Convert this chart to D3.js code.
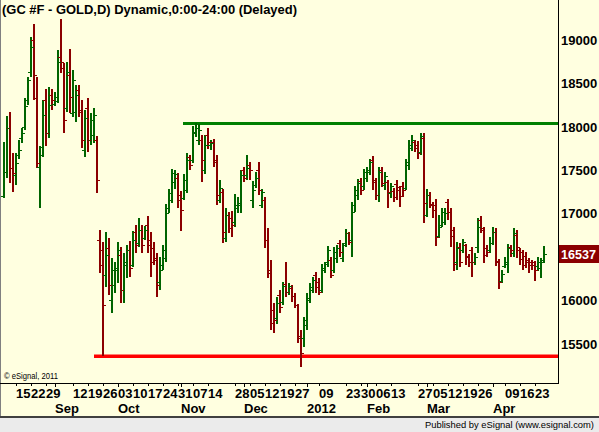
<!DOCTYPE html>
<html><head><meta charset="utf-8">
<script src="https://cdnjs.cloudflare.com/ajax/libs/d3/7.8.5/d3.min.js"></script>
<style>html,body{margin:0;padding:0;background:#FFFFE0;overflow:hidden}</style>
</head><body><svg id="c" width="599" height="432"></svg>
<script>
// ---- data ----
const startDate = "2011-08-09";
const holidays = ["2011-09-05","2011-11-24","2011-12-26","2012-01-02","2012-01-16","2012-02-20","2012-04-06"];
const openP = [17205,17481,17987,17527,17446,17676,17872,17999,18310,18632,19000,18333,17538,17769,18310,17930,18367,18264,18298,18805,18678,18218,18598,18160,18172,18425,18195,17734,18218,17849,17907,17849,16698,16583,16295,16606,16007,16180,16352,16525,16122,16410,16583,16410,16790,16663,16813,16721,16871,16698,16606,16467,16215,16410,16491,17066,17159,17366,17412,17216,17182,17274,17654,17619,17930,17849,17849,17504,17907,17792,17826,17619,17159,17251,16721,16986,16952,16905,17066,17101,17504,17446,17561,17159,17331,17504,17101,17159,16698,16318,15893,15800,16065,15985,16192,16099,16146,16054,15950,15593,15570,15719,16030,16122,16295,16215,16122,16352,16445,16467,16352,16491,16663,16491,16663,16778,16698,17101,17216,17377,17320,17412,17481,17619,17366,17216,17504,17331,17366,17239,17262,17343,17308,17320,17297,17561,17757,17826,17792,17711,17872,16986,17216,17113,17101,16744,16871,16905,17136,17020,16813,16445,16617,16583,16640,16514,16583,16445,16617,16928,16813,16606,16583,16663,16790,16445,16226,16399,16422,16617,16548,16755,16583,16560,16514,16467,16445,16445,16399,16375,16467];
const highP = [17826,18125,18172,17700,17700,17849,17987,18333,18575,19035,19185,18575,17780,18310,18436,18459,18436,18402,18885,19242,18736,18747,18897,18655,18482,18482,18310,18195,18333,18160,18218,17895,16813,16675,16790,16721,16491,16445,16675,16617,16548,16640,16687,16801,16871,16952,16871,16859,16975,16790,16675,16548,16502,16640,17113,17285,17515,17504,17469,17262,17458,17700,17676,18010,18045,18033,17907,17907,17987,17849,17861,17676,17389,17285,17066,17020,17032,17228,17193,17504,17538,17676,17596,17377,17481,17596,17285,17193,16836,16467,15973,16042,16122,16215,16445,16203,16180,16088,15961,15662,15811,16088,16203,16272,16329,16260,16422,16445,16629,16502,16617,16640,16698,16663,16825,16790,17136,17320,17400,17412,17515,17538,17631,17665,17412,17538,17538,17481,17389,17354,17297,17389,17320,17366,17631,17849,17907,17849,17838,17930,17930,17285,17251,17136,17170,16986,17066,17066,17170,17066,16848,16675,16663,16710,16652,16537,16617,16548,16952,16975,16848,16640,16733,16848,16836,16479,16352,16502,16652,16640,16836,16813,16606,16583,16560,16491,16467,16456,16502,16491,16629];
const lowP = [17182,17412,17354,17251,17331,17631,17815,17964,18252,18575,18310,17527,17066,17654,17780,17872,18195,18241,18275,18620,17930,18172,18160,18114,18056,18114,17757,17654,17711,17792,17815,17239,16318,15360,16157,16065,15857,16088,16203,15973,15973,16260,16272,16387,16548,16617,16548,16698,16548,16272,16410,16042,16122,16352,16445,17009,17124,17285,17066,16801,17159,17239,17504,17584,17884,17792,17366,17458,17746,17734,17538,17101,17124,16663,16675,16778,16733,16848,17009,17009,17366,17389,17389,17066,17297,17216,17066,16606,16260,15662,15627,15731,15857,15950,16042,16065,15985,15916,15512,15236,15466,15662,15973,16088,16088,16065,16088,16318,16387,16260,16318,16433,16502,16445,16617,16640,16502,17020,17159,17216,17274,17366,17446,17274,17159,17136,17308,17274,17066,17182,17136,17159,17078,17193,17274,17504,17723,17711,17631,17676,16894,16963,17066,16952,16629,16721,16848,16871,16928,16617,16341,16352,16387,16548,16410,16387,16272,16410,16548,16778,16433,16502,16548,16640,16399,16134,16203,16375,16318,16502,16502,16491,16410,16352,16375,16318,16352,16226,16341,16260,16433];
const closeP = [17481,17987,17527,17469,17584,17731,17930,18241,18540,18920,18598,17584,17676,18137,17930,18252,18310,18344,18747,18747,18079,18632,18344,18540,18367,18172,17849,18102,17849,18079,18137,17389,16410,15950,16525,16180,16352,16375,16583,16122,16445,16583,16375,16698,16640,16813,16640,16813,16640,16445,16491,16180,16352,16583,17009,17239,17469,17458,17159,17043,17389,17619,17561,17941,17987,17964,17619,17792,17826,17815,17596,17216,17297,16790,16986,16836,16871,17101,17124,17446,17412,17527,17504,17274,17412,17274,17251,16698,16352,15742,15777,15973,15927,16168,16099,16168,16054,15950,15570,15397,15777,16007,16157,16237,16157,16099,16375,16422,16583,16295,16560,16606,16560,16640,16778,16675,17020,17274,17354,17274,17481,17504,17596,17389,17216,17481,17354,17435,17251,17320,17193,17274,17205,17274,17596,17792,17849,17757,17700,17895,17124,17216,17101,17043,16733,16848,17020,17009,17020,16744,16422,16606,16445,16675,16502,16445,16445,16502,16848,16836,16525,16560,16663,16790,16456,16215,16306,16445,16606,16583,16778,16617,16479,16410,16445,16410,16410,16352,16445,16445,16537];
const priceTicks = [15500,16000,16500,17000,17500,18000,18500,19000];
const dayTickDates = ["2011-08-15","2011-08-22","2011-08-29","2011-09-12","2011-09-19","2011-09-26","2011-10-03","2011-10-10","2011-10-17","2011-10-24","2011-10-31","2011-11-07","2011-11-14","2011-11-28","2011-12-05","2011-12-12","2011-12-19","2011-12-27","2012-01-09","2012-01-23","2012-01-30","2012-02-06","2012-02-13","2012-02-27","2012-03-05","2012-03-12","2012-03-19","2012-03-26","2012-04-09","2012-04-16","2012-04-23"];
const monthTickDates = ["2011-09-01","2011-10-03","2011-11-01","2011-12-01","2012-01-03","2012-02-01","2012-03-01","2012-04-02"];
const monthTickLabels = ["Sep","Oct","Nov","Dec","2012","Feb","Mar","Apr"];
const resistanceLevel = 18050, resistanceFrom = "2011-11-02";
const supportLevel = 15360, supportFrom = "2011-09-21";
const titleText = "(GC #F - GOLD,D) Dynamic,0:00-24:00 (Delayed)";

// ---- trading-day categories ----
const dates = [];
{
  let d = new Date(startDate + "T00:00:00Z");
  const hol = new Set(holidays);
  while (dates.length < closeP.length) {
    const s = d.toISOString().slice(0,10);
    const wd = d.getUTCDay();
    if (wd !== 0 && wd !== 6 && !hol.has(s)) dates.push(s);
    d = new Date(d.getTime() + 86400000);
  }
}
const bars = dates.map((dt,i)=>({date:dt,o:openP[i],h:highP[i],l:lowP[i],c:closeP[i]}));

const W = 599, H = 432, plotR = 558, plotB = 383;
const svg = d3.select("#c");
const FONT = "'Liberation Sans', Arial, sans-serif";

svg.append("rect").attr("width",W).attr("height",H).attr("fill","#FFFFE0");

const x = d3.scalePoint().domain(dates).range([4,544]);
const y = d3.scaleLinear().domain([15500,19000]).range([344,40]);

// frame
svg.append("line").attr("x1",0.5).attr("x2",0.5).attr("y1",0).attr("y2",417).attr("stroke","#808080");
svg.append("line").attr("x1",plotR+0.5).attr("x2",plotR+0.5).attr("y1",0).attr("y2",plotB+1).attr("stroke","#000");
svg.append("line").attr("x1",0).attr("x2",plotR+1).attr("y1",plotB+0.5).attr("y2",plotB+0.5).attr("stroke","#000");

// title
svg.append("text").attr("x",2).attr("y",14).attr("font-family",FONT).attr("font-weight","bold")
  .attr("font-size",13).attr("textLength",295).attr("lengthAdjust","spacingAndGlyphs").attr("fill","#000").text(titleText);

// support / resistance
svg.append("rect").attr("x",Math.round(x(resistanceFrom))-1).attr("y",Math.round(y(resistanceLevel))-1)
  .attr("width",plotR-Math.round(x(resistanceFrom))+1).attr("height",3).attr("fill","#008000");
svg.append("rect").attr("x",Math.round(x(supportFrom))).attr("y",Math.round(y(supportLevel))-1.5)
  .attr("width",plotR-Math.round(x(supportFrom))).attr("height",3.5).attr("fill","#FF0000");

// OHLC bars
const gB = svg.append("g").attr("shape-rendering","crispEdges");
const col = b => b.c >= b.o ? "#006400" : "#8B0000";
gB.selectAll("rect.v").data(bars).join("rect").attr("class","v")
  .attr("x",b=>Math.round(x(b.date))-1).attr("width",2)
  .attr("y",b=>Math.round(y(b.h))).attr("height",b=>Math.max(1,Math.round(y(b.l))-Math.round(y(b.h))))
  .attr("fill",col);
gB.selectAll("rect.o").data(bars).join("rect").attr("class","o")
  .attr("x",b=>Math.round(x(b.date))-3).attr("width",2)
  .attr("y",b=>Math.round(y(b.o))).attr("height",1).attr("fill",col);
gB.selectAll("rect.c").data(bars).join("rect").attr("class","c")
  .attr("x",b=>Math.round(x(b.date))+1).attr("width",2)
  .attr("y",b=>Math.round(y(b.c))).attr("height",1).attr("fill",col);

// price axis labels (the one under the last-price badge is covered in the original)
const last = closeP[closeP.length-1];
svg.append("g").selectAll("text").data(priceTicks.filter(p=>Math.abs(y(p)-y(last))>12)).join("text")
  .attr("x",561).attr("y",p=>y(p)+4.7).attr("font-family",FONT).attr("font-weight","bold")
  .attr("font-size",13).attr("fill","#000").text(p=>p);

// last price badge
svg.append("rect").attr("x",559).attr("y",Math.round(y(last))-9).attr("width",40).attr("height",18).attr("fill","#8B0000");
svg.append("text").attr("x",561).attr("y",y(last)+4.7).attr("font-family",FONT).attr("font-weight","bold")
  .attr("font-size",13).attr("textLength",35).attr("lengthAdjust","spacingAndGlyphs").attr("fill","#fff").text(last);

// x axis ticks and labels
const gX = svg.append("g").attr("shape-rendering","crispEdges");
gX.selectAll("line.d").data(dayTickDates).join("line").attr("class","d")
  .attr("x1",d=>Math.round(x(d))+0.5).attr("x2",d=>Math.round(x(d))+0.5).attr("y1",plotB).attr("y2",plotB+3).attr("stroke","#000");
gX.selectAll("line.m").data(monthTickDates).join("line").attr("class","m")
  .attr("x1",d=>Math.round(x(d))+0.5).attr("x2",d=>Math.round(x(d))+0.5).attr("y1",plotB).attr("y2",plotB+4).attr("stroke","#000");
svg.append("g").selectAll("text").data(dayTickDates).join("text")
  .attr("x",d=>x(d)).attr("y",398).attr("font-family",FONT).attr("font-weight","bold")
  .attr("font-size",13).attr("fill","#000").text(d=>d.slice(8,10));
svg.append("g").selectAll("text").data(monthTickDates).join("text")
  .attr("x",d=>x(d)).attr("y",413).attr("font-family",FONT).attr("font-weight","bold")
  .attr("font-size",13).attr("fill","#000").text((d,i)=>monthTickLabels[i]);

// copyright
svg.append("text").attr("x",4).attr("y",379).attr("font-family",FONT).attr("font-size",9)
  .attr("textLength",54).attr("lengthAdjust","spacingAndGlyphs").attr("fill","#000").text("\u00A9 eSignal, 2011");

// status bar
svg.append("rect").attr("x",0).attr("y",417).attr("width",W).attr("height",15).attr("fill","#EBEBEB");
svg.append("rect").attr("x",0).attr("y",416).attr("width",W).attr("height",2).attr("fill","#404040");
svg.append("text").attr("x",425).attr("y",428).attr("font-family",FONT)
  .attr("font-size",9.5).attr("textLength",169).attr("lengthAdjust","spacingAndGlyphs").attr("fill","#000")
  .text("Published by eSignal (www.esignal.com)");
</script></body></html>
